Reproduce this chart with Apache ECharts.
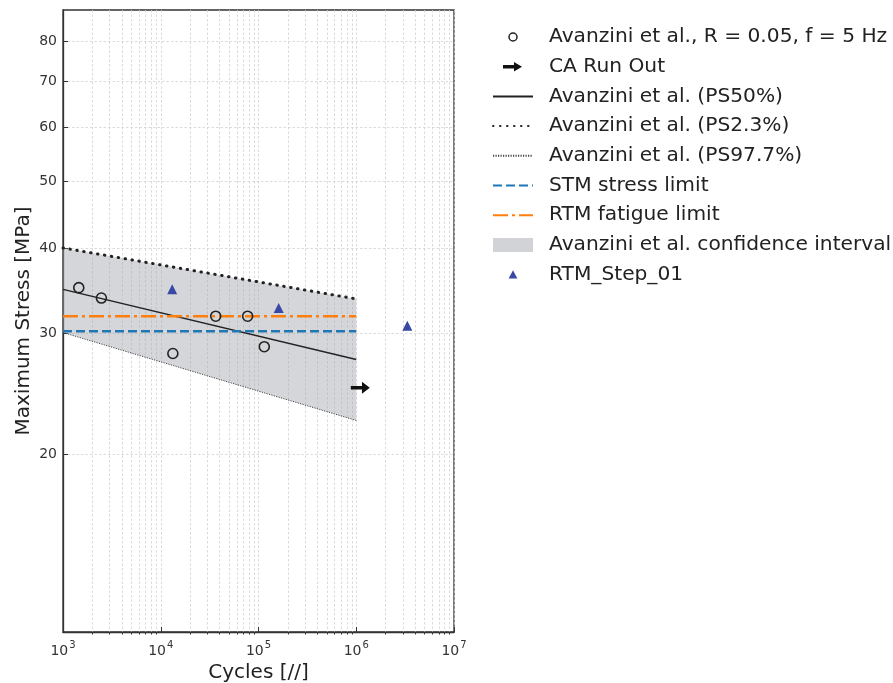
<!DOCTYPE html>
<html><head><meta charset="utf-8">
<script src="https://cdn.jsdelivr.net/npm/echarts@6/dist/echarts.min.js"></script>
<style>html,body{margin:0;padding:0;background:#fff;overflow:hidden}#c{width:893px;height:683px}</style>
</head><body><div id="c"></div>
<script>
// ---- data ----
const avanziniCycles = [1450, 2470, 13300, 36500, 77400, 114600];
const avanziniStress = [35.0, 33.8, 28.05, 31.8, 31.8, 28.7];
const runOutCycles = [1.1e6];
const runOutStress = [25.0];
const stepCycles = [13100, 161000, 3.33e6];
const stepStress = [34.8, 32.7, 30.8];
const curveCycles = [1e3, 1e6];
const ps50 = [34.8, 27.5];
const ps23 = [40.0, 33.7];
const ps977 = [30.1, 22.4];
const limitCycles = [1e3, 1e6];
const stmLimit = [30.23, 30.23];
const rtmLimit = [31.8, 31.8];
const xTicks = [1e3, 1e4, 1e5, 1e6, 1e7];
const xMinorTicks = [];
[1e3, 1e4, 1e5, 1e6].forEach(d => { for (let k = 2; k <= 9; k++) xMinorTicks.push(k * d); });
const yTicks = [20, 30, 40, 50, 60, 70, 80];

const FONT = 'DejaVu Sans';
const pair = (xs, ys) => xs.map((x, i) => [x, ys[i]]);
const gridLine = {show: true, lineStyle: {color: '#d2d2d2', width: 0.8, type: [2.5, 2]}};
const hideDot = {opacity: 0};

const chart = echarts.init(document.getElementById('c'), null, {renderer: 'canvas'});
chart.setOption({
  animation: false,
  backgroundColor: '#fff',
  grid: {left: 63, top: 10, width: 391, height: 622, outerBoundsMode: 'none', containLabel: false,
    show: true, borderColor: '#333', borderWidth: 1.3, backgroundColor: 'transparent'},
  xAxis: [{
    type: 'log', logBase: 10, min: 1e3, max: 1e7, position: 'bottom',
    name: 'Cycles [//]', nameLocation: 'middle', nameGap: 30,
    nameTextStyle: {fontFamily: FONT, fontSize: 20, color: '#222'},
    axisLine: {show: true, lineStyle: {color: '#333', width: 1.3}},
    axisTick: {show: true, inside: true, length: 5, customValues: xTicks, lineStyle: {color: '#333'}},
    axisLabel: {customValues: xTicks, color: '#333', margin: 8,
      formatter: v => '{b|10}{s|' + Math.round(Math.log10(v)) + '}',
      rich: {
        b: {fontFamily: FONT, fontSize: 14, color: '#333', lineHeight: 18, verticalAlign: 'bottom'},
        s: {fontFamily: FONT, fontSize: 10, color: '#333', lineHeight: 18, verticalAlign: 'top', padding: [0, 0, 0, 1]}
      }},
    splitLine: Object.assign({customValues: xTicks}, gridLine),
  }, {
    type: 'log', logBase: 10, min: 1e3, max: 1e7, position: 'bottom', offset: 0,
    axisLine: {show: false},
    axisTick: {show: true, inside: false, length: 2.5, customValues: xMinorTicks, lineStyle: {color: '#333'}},
    axisLabel: {show: false},
    splitLine: Object.assign({customValues: xMinorTicks}, gridLine)
  }],
  yAxis: {
    type: 'log', logBase: 10, min: 11, max: 89,
    name: 'Maximum Stress [MPa]', nameLocation: 'middle', nameGap: 29,
    nameTextStyle: {fontFamily: FONT, fontSize: 20, color: '#222'},
    axisLine: {show: true, lineStyle: {color: '#333', width: 1.3}},
    axisTick: {show: true, inside: true, length: 5, customValues: yTicks, lineStyle: {color: '#333'}},
    axisLabel: {customValues: yTicks, fontFamily: FONT, fontSize: 14, color: '#333', margin: 6},
    splitLine: Object.assign({customValues: yTicks}, gridLine),
  },
  legend: {
    orient: 'vertical', left: 492, top: 27, padding: 0, itemWidth: 40, itemHeight: 14, itemGap: 9.7,
    textStyle: {fontFamily: FONT, fontSize: 20.2, color: '#222', lineHeight: 20, padding: [0, 0, 0, 11]},
    data: [
      {name: 'Avanzini et al., R = 0.05, f = 5 Hz',
        icon: 'path://M0,0 M14,14 M11,7 A4,4 0 1 1 3,7 A4,4 0 1 1 11,7 Z',
        itemStyle: {color: 'rgba(0,0,0,0)', borderColor: '#222', borderWidth: 1.5, opacity: 1}},
      {name: 'CA Run Out',
        icon: 'path://M0,0 M20,14 M0,5.3 L11,5.3 L11,2.2 L19,7 L11,11.8 L11,8.7 L0,8.7 Z',
        itemStyle: {color: '#111', opacity: 1}},
      {name: 'Avanzini et al. (PS50%)', itemStyle: hideDot},
      {name: 'Avanzini et al. (PS2.3%)', itemStyle: hideDot},
      {name: 'Avanzini et al. (PS97.7%)', itemStyle: hideDot},
      {name: 'STM stress limit', itemStyle: hideDot},
      {name: 'RTM fatigue limit', itemStyle: hideDot},
      {name: 'Avanzini et al. confidence interval', icon: 'rect', itemStyle: {color: '#d2d3d6', opacity: 1}},
      {name: 'RTM_Step_01', icon: 'path://M0,0 M14,14 M7,2.6 L11.4,11 L2.6,11 Z',
        itemStyle: {color: '#3947a5', opacity: 1}}
    ]
  },
  series: [
    {
      name: 'Avanzini et al. confidence interval', type: 'custom', z: 1,
      itemStyle: {color: '#d2d3d6'},
      data: pair(curveCycles, ps23),
      renderItem: (params, api) => {
        if (params.dataIndex !== 0) return null;
        const upper = curveCycles.map((c, i) => api.coord([c, ps23[i]]));
        const lower = curveCycles.map((c, i) => api.coord([c, ps977[i]])).reverse();
        return {type: 'polygon', shape: {points: upper.concat(lower)}, style: {fill: 'rgba(160,163,170,0.45)'}};
      }
    },
    {name: 'Avanzini et al. (PS50%)', type: 'line', z: 3, symbol: 'none', data: pair(curveCycles, ps50),
      lineStyle: {color: '#222', width: 1.5}},
    {name: 'Avanzini et al. (PS2.3%)', type: 'line', z: 3, symbol: 'none', data: pair(curveCycles, ps23),
      lineStyle: {color: '#222', width: 3, type: [0.5, 6.5], cap: 'round'}},
    {name: 'Avanzini et al. (PS97.7%)', type: 'line', z: 3, symbol: 'none', data: pair(curveCycles, ps977),
      lineStyle: {color: '#444', width: 1, type: [1.2, 1.3]}},
    {name: 'STM stress limit', type: 'line', z: 4, symbol: 'none', data: pair(limitCycles, stmLimit),
      lineStyle: {color: '#1f77b4', width: 2.5, type: [9, 4]}},
    {name: 'RTM fatigue limit', type: 'line', z: 4, symbol: 'none', data: pair(limitCycles, rtmLimit),
      lineStyle: {color: '#ff7f0e', width: 2.5, type: [15, 4, 3, 4]}},
    {name: 'Avanzini et al., R = 0.05, f = 5 Hz', type: 'scatter', z: 5, symbol: 'circle', symbolSize: 10,
      data: pair(avanziniCycles, avanziniStress),
      itemStyle: {color: 'rgba(0,0,0,0)', borderColor: '#222', borderWidth: 1.6, opacity: 1}},
    {name: 'CA Run Out', type: 'scatter', z: 5, symbolSize: [19, 12],
      symbol: 'path://M0,4.5 L10,4.5 L10,0.8 L17,6 L10,11.2 L10,7.5 L0,7.5 Z',
      data: pair(runOutCycles, runOutStress), itemStyle: {color: '#111', opacity: 1}},
    {name: 'RTM_Step_01', type: 'scatter', z: 5, symbol: 'triangle', symbolSize: 10,
      data: pair(stepCycles, stepStress), itemStyle: {color: '#3947a5', opacity: 1}}
  ]
});
</script></body></html>
